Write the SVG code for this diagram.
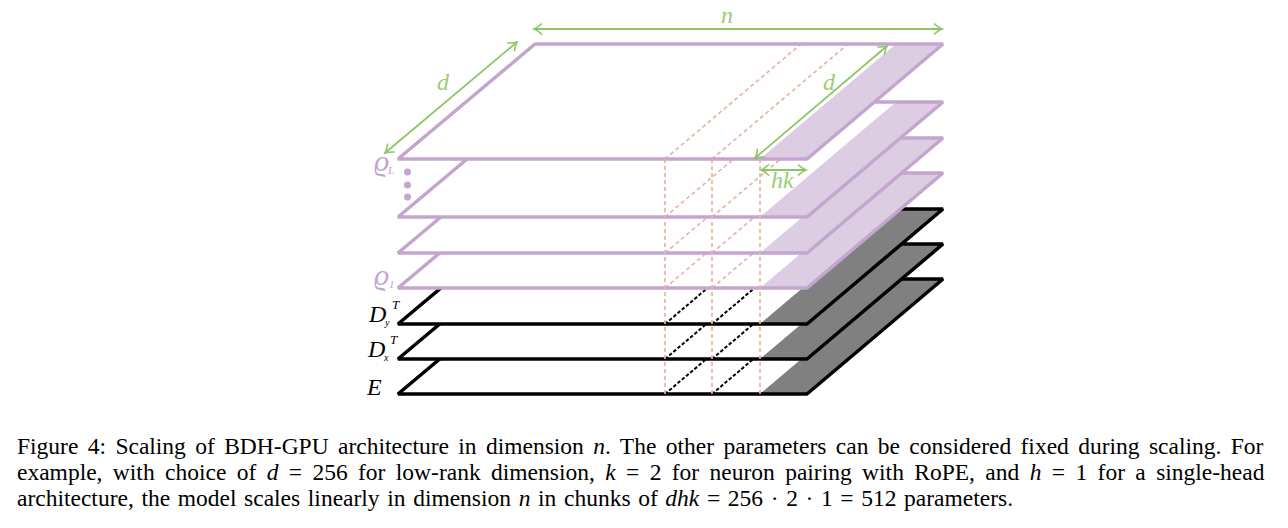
<svg xmlns="http://www.w3.org/2000/svg" width="1288" height="528" viewBox="0 0 1288 528">
<defs>
<marker id="ah" viewBox="-9 -6 11 12" refX="0" refY="0" markerWidth="11" markerHeight="12" markerUnits="userSpaceOnUse" orient="auto-start-reverse"><path d="M-8 -5.500Q-3 -1 0 0Q-3 1 -8 5.500" fill="none" stroke="#8cc665" stroke-width="1.6"/></marker>
<polygon id="pl" points="398,0 807,0 943,-115 535,-115"/>
<polygon id="sh" points="760,0 807,0 943,-115 896,-115"/>
</defs>
<style>
.bg{fill:#fff;stroke:none}
.pf{fill:#dccde3;stroke:none}
.kf{fill:#808080;stroke:none}
.po{fill:none;stroke:#c3a5cf;stroke-width:3.500;stroke-linejoin:bevel}
.ko{fill:none;stroke:#000;stroke-width:3.500;stroke-linejoin:bevel}
.rd{stroke:#eab3a5;stroke-width:1.700;stroke-dasharray:4 3;fill:none}
.kd{stroke:#000;stroke-width:2;stroke-dasharray:3.500 2;fill:none}
.dim{stroke:#8cc665;stroke-width:1.800;fill:none;marker-start:url(#ah);marker-end:url(#ah)}
text{font-family:"Liberation Serif","Times New Roman",serif}
.m{font-style:italic}
.g{fill:#9ccb74;font-size:24px;font-style:italic}
.p{fill:#c3a5cf;font-style:italic}
.k{fill:#000;font-style:italic}
.cap{font-size:23.500px;fill:#000}
</style>
<g id="layer-E" transform="translate(0,394)"><use href="#pl" class="bg"/><use href="#sh" class="kf"/><path class="kd" d="M665 0L801 -115M712 0L848 -115"/><use href="#pl" class="ko"/></g>
<g id="layer-Dx" transform="translate(0,359)"><use href="#pl" class="bg"/><use href="#sh" class="kf"/><path class="kd" d="M665 0L801 -115M712 0L848 -115"/><use href="#pl" class="ko"/></g>
<g id="layer-Dy" transform="translate(0,324)"><use href="#pl" class="bg"/><use href="#sh" class="kf"/><path class="kd" d="M665 0L801 -115M712 0L848 -115"/><use href="#pl" class="ko"/></g>
<g id="layer-rho-1" transform="translate(0,288)"><use href="#pl" class="bg"/><use href="#sh" class="pf"/><path class="rd" d="M665 0L801 -115M712 0L848 -115"/><use href="#pl" class="po"/></g>
<g id="layer-rho-2" transform="translate(0,253)"><use href="#pl" class="bg"/><use href="#sh" class="pf"/><path class="rd" d="M665 0L801 -115M712 0L848 -115"/><use href="#pl" class="po"/></g>
<g id="layer-rho-3" transform="translate(0,217)"><use href="#pl" class="bg"/><use href="#sh" class="pf"/><path class="rd" d="M665 0L801 -115M712 0L848 -115"/><use href="#pl" class="po"/></g>
<g id="layer-rho-L" transform="translate(0,159)"><use href="#pl" class="bg"/><use href="#sh" class="pf"/><path class="rd" d="M665 0L801 -115M712 0L848 -115"/><use href="#pl" class="po"/></g>
<g id="connectors">
<path class="rd" d="M665 159V394M712 159V394M760 159V394"/>
<path class="dim" d="M534 29H942"/>
<path class="dim" d="M385 153L517 42"/>
<path class="dim" d="M755 158L887 46"/>
<path class="dim" d="M761 170H806"/>
</g>
<g id="dots" fill="#c3a5cf"><circle cx="407.500" cy="172" r="3.500"/><circle cx="407.500" cy="185" r="3.500"/><circle cx="407.500" cy="197" r="3.500"/></g>
<g id="labels">
<text class="g" x="437" y="90">d</text>
<text class="g" x="721" y="23">n</text>
<text class="g" x="823" y="90">d</text>
<text class="g" x="771" y="188">hk</text>
<text class="p" x="374" y="171" font-size="30">ϱ</text><text class="p" x="388" y="174" font-size="11">L</text>
<text class="p" x="374" y="285" font-size="30">ϱ</text><text class="p" x="389" y="288" font-size="11">1</text>
<text class="k" x="369" y="322" font-size="24">D</text><text class="k" x="385" y="326" font-size="10">y</text><text class="k" x="392" y="309" font-size="13">T</text>
<text class="k" x="368" y="357" font-size="24">D</text><text class="k" x="384" y="361" font-size="10">x</text><text class="k" x="390" y="344" font-size="13">T</text>
<text class="k" x="367" y="395" font-size="24">E</text>
</g>
<g id="caption">
<text class="cap" x="17" y="454" word-spacing="3.500">Figure 4: Scaling of BDH-GPU architecture in dimension <tspan class="m">n</tspan>. The other parameters can be considered fixed during scaling. For</text>
<text class="cap" x="17" y="480" word-spacing="4.500">example, with choice of <tspan class="m">d</tspan> = 256 for low-rank dimension, <tspan class="m">k</tspan> = 2 for neuron pairing with RoPE, and <tspan class="m">h</tspan> = 1 for a single-head</text>
<text class="cap" x="17" y="506" word-spacing="1.750">architecture, the model scales linearly in dimension <tspan class="m">n</tspan> in chunks of <tspan class="m">dhk</tspan> = 256 · 2 · 1 = 512 parameters.</text>
</g>
</svg>
